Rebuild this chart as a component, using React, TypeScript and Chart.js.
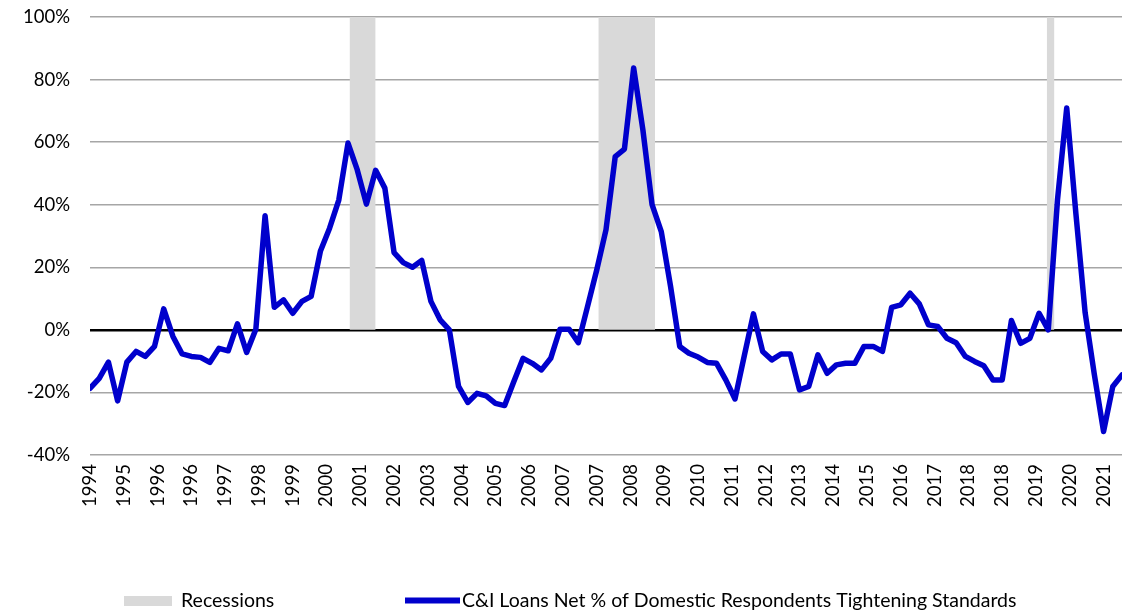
import React, { useEffect, useRef } from 'react';
import { Chart, registerables } from 'chart.js';

Chart.register(...registerables);

// First quarterly survey month shown on the axis
const firstSurvey = '1994-03';
const monthsPerQuarter = 3;

// C&I loans: net % of domestic respondents tightening standards (quarterly, 1994Q1 - 2022Q1)
const tighteningPct = [
  -18.7, -15.5, -10.3, -22.7, -10.3, -6.9, -8.5, -5.3, 6.7, -2.1,
  -7.7, -8.5, -8.8, -10.4, -5.9, -6.7, 1.9, -7.2, 0.2, 36.5,
  7.2, 9.6, 5.3, 9.1, 10.7, 25.1, 32.5, 41.5, 59.7, 51.2,
  40.2, 51.0, 45.3, 24.7, 21.5, 20.0, 22.2, 9.1, 3.2, 0.0,
  -18.1, -23.2, -20.3, -21.1, -23.5, -24.2, -16.5, -9.1, -10.7, -12.8,
  -9.1, 0.2, 0.2, -4.1, 7.5, 19.2, 32.0, 55.4, 57.8, 83.7,
  64.0, 40.0, 31.4, 14.0, -5.3, -7.5, -8.7, -10.4, -10.7, -16.0,
  -22.1, -8.4, 5.1, -6.9, -9.6, -7.7, -7.7, -19.2, -18.1, -8.0,
  -13.9, -11.2, -10.7, -10.7, -5.3, -5.3, -6.9, 7.2, 8.0, 11.7,
  8.3, 1.6, 1.1, -2.7, -4.1, -8.5, -10.1, -11.5, -16.0, -16.0,
  3.0, -4.3, -2.7, 5.3, 0.0, 41.6, 70.9, 37.0, 5.5, -14.3,
  -32.5, -18.1, -14.4,
];

// NBER recessions (peak month, trough month)
const recessionPeaks = ['2001-03', '2007-12', '2020-02'];
const recessionTroughs = ['2001-11', '2009-06', '2020-04'];
const recessionHeight = 100;

// x-axis labels, one every 11 months from the first survey
const tickYears = [
  '1994', '1995', '1996', '1996', '1997', '1998', '1999', '2000', '2001', '2002',
  '2003', '2004', '2005', '2006', '2007', '2007', '2008', '2009', '2010', '2011',
  '2012', '2013', '2014', '2015', '2016', '2017', '2018', '2018', '2019', '2020',
  '2021',
];
const tickStepMonths = 11;

const yMin = -40;
const yMax = 100;
const yStep = 20;

const recessionLabel = 'Recessions';
const seriesLabel = 'C&I Loans Net % of Domestic Respondents Tightening Standards';

const lineColor = '#0000cc';
const recessionColor = '#d9d9d9';
const gridColor = '#a6a6a6';
const fontFamily = 'Lato, "Open Sans", sans-serif';

function monthsFromStart(ym: string): number {
  const [y, m] = ym.split('-').map(Number);
  const [y0, m0] = firstSurvey.split('-').map(Number);
  return (y - y0) * 12 + (m - m0);
}

function clearScalePadding(scale: any) {
  scale.paddingTop = 0;
  scale.paddingBottom = 0;
  scale.paddingLeft = 0;
  scale.paddingRight = 0;
}

const legendPlugin = {
  id: 'customLegend',
  afterDraw(chart: any) {
    const ctx = chart.ctx as CanvasRenderingContext2D;
    const ds = chart.data.datasets;
    const y = 601;
    ctx.save();
    ctx.font = `19.5px ${fontFamily}`;
    ctx.textBaseline = 'middle';
    ctx.textAlign = 'left';
    // recessions
    ctx.fillStyle = ds[0].backgroundColor;
    ctx.fillRect(124, 596, 48, 10);
    ctx.fillStyle = '#000';
    ctx.fillText(ds[0].label, 181, y);
    // series
    ctx.strokeStyle = ds[1].borderColor;
    ctx.lineWidth = 6;
    ctx.beginPath();
    ctx.moveTo(405, 600.5);
    ctx.lineTo(460, 600.5);
    ctx.stroke();
    ctx.fillStyle = '#000';
    ctx.fillText(ds[1].label, 462, y);
    ctx.restore();
  },
};

export default function App() {
  const canvasRef = useRef<HTMLCanvasElement | null>(null);

  useEffect(() => {
    document.body.style.margin = '0';
    const canvas = canvasRef.current;
    if (!canvas) return;

    const linePoints = tighteningPct.map((v, i) => ({ x: i * monthsPerQuarter, y: v }));
    const recessionPoints: { x: number; y: number | null }[] = [];
    recessionPeaks.forEach((p, k) => {
      const s = monthsFromStart(p) + 0.5;
      const e = monthsFromStart(recessionTroughs[k]) + 1;
      recessionPoints.push({ x: s, y: recessionHeight });
      recessionPoints.push({ x: e, y: recessionHeight });
      recessionPoints.push({ x: e + 0.01, y: null });
    });
    const xMax = (tighteningPct.length - 1) * monthsPerQuarter;

    const chart = new Chart(canvas, {
      type: 'line',
      data: {
        datasets: [
          {
            label: recessionLabel,
            data: recessionPoints as any,
            backgroundColor: recessionColor,
            borderColor: recessionColor,
            borderWidth: 0,
            pointRadius: 0,
            fill: 'origin',
            spanGaps: false,
            order: 2,
          },
          {
            label: seriesLabel,
            data: linePoints,
            borderColor: lineColor,
            backgroundColor: lineColor,
            borderWidth: 5.5,
            pointRadius: 0,
            tension: 0,
            fill: false,
            borderJoinStyle: 'round',
            borderCapStyle: 'round',
            order: 1,
          },
        ],
      },
      options: {
        animation: false,
        responsive: false,
        devicePixelRatio: 1,
        layout: { padding: { left: 0, right: 7, top: 17, bottom: 0 } },
        plugins: {
          legend: { display: false },
          tooltip: { enabled: false },
        },
        scales: {
          x: {
            type: 'linear',
            min: 0,
            max: xMax,
            grid: { display: false, drawTicks: false },
            border: { display: false },
            afterBuildTicks: (scale: any) => {
              scale.ticks = tickYears.map((_, k) => ({ value: k * tickStepMonths }));
            },
            afterFit: (scale: any) => {
              scale.height = 156;
              clearScalePadding(scale);
            },
            ticks: {
              autoSkip: false,
              minRotation: 90,
              maxRotation: 90,
              padding: 9,
              color: '#000',
              font: { family: fontFamily, size: 18.5 },
              callback: (_v: any, index: number) => tickYears[index],
            },
          },
          y: {
            min: yMin,
            max: yMax,
            grid: {
              drawTicks: false,
              color: (c: any) => (c.tick && c.tick.value === 0 ? '#000' : gridColor),
              lineWidth: (c: any) => (c.tick && c.tick.value === 0 ? 2.5 : 1.5),
            },
            border: { display: false },
            afterFit: (scale: any) => {
              scale.width = 90;
              clearScalePadding(scale);
            },
            ticks: {
              stepSize: yStep,
              padding: 20,
              color: '#000',
              font: { family: fontFamily, size: 18.5 },
              callback: (v: any) => `${v}%`,
            },
          },
        },
      },
      plugins: [legendPlugin],
    });

    return () => chart.destroy();
  }, []);

  return (
    <div style={{ position: 'fixed', left: 0, top: 0, width: 1129, height: 611, background: '#fff' }}>
      <canvas ref={canvasRef} width={1129} height={611} />
    </div>
  );
}
